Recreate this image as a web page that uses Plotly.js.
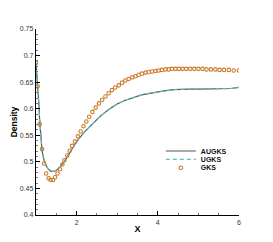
<!DOCTYPE html>
<html><head><meta charset="utf-8">
<script src="https://cdn.plot.ly/plotly-3.0.1.min.js"></script>
<style>html,body{margin:0;padding:0;background:#fff;}#chart{width:273px;height:242px;}</style>
</head><body><div id="chart"></div>
<script>
var lineX = [1.00,1.03,1.05,1.07,1.09,1.12,1.15,1.20,1.25,1.30,1.35,1.40,1.45,1.50,1.60,1.70,1.80,1.90,2.00,2.20,2.40,2.60,2.80,3.00,3.20,3.40,3.60,3.80,4.00,4.20,4.40,4.60,4.80,5.00,5.20,5.40,5.60,5.80,6.00];
var augksY = [0.686,0.660,0.642,0.610,0.578,0.541,0.520,0.503,0.493,0.487,0.483,0.482,0.482,0.484,0.491,0.501,0.514,0.526,0.538,0.557,0.573,0.587,0.599,0.609,0.616,0.621,0.626,0.629,0.632,0.634,0.636,0.637,0.637,0.637,0.637,0.637,0.637,0.638,0.640];
var ugksY = [0.686,0.660,0.642,0.610,0.578,0.541,0.520,0.503,0.493,0.487,0.483,0.482,0.482,0.484,0.491,0.501,0.514,0.526,0.538,0.557,0.573,0.587,0.599,0.609,0.616,0.621,0.626,0.629,0.632,0.634,0.636,0.637,0.637,0.637,0.637,0.637,0.637,0.638,0.640];
var gksX = [1.00,1.04,1.09,1.15,1.20,1.25,1.31,1.36,1.42,1.47,1.53,1.59,1.65,1.70,1.77,1.83,1.89,1.96,2.03,2.10,2.17,2.24,2.31,2.39,2.47,2.55,2.63,2.71,2.79,2.87,2.95,3.04,3.12,3.20,3.28,3.37,3.45,3.53,3.61,3.70,3.78,3.86,3.94,4.02,4.10,4.19,4.27,4.35,4.44,4.52,4.61,4.70,4.80,4.90,5.00,5.10,5.20,5.31,5.42,5.52,5.63,5.75,5.87,6.00];
var gksY = [0.686,0.642,0.571,0.524,0.497,0.478,0.469,0.466,0.466,0.471,0.478,0.486,0.495,0.503,0.512,0.521,0.530,0.538,0.548,0.557,0.567,0.576,0.585,0.594,0.602,0.610,0.617,0.623,0.629,0.635,0.640,0.644,0.649,0.653,0.656,0.659,0.661,0.664,0.666,0.668,0.669,0.670,0.671,0.672,0.673,0.674,0.674,0.675,0.675,0.675,0.675,0.675,0.675,0.675,0.675,0.675,0.674,0.674,0.674,0.673,0.673,0.673,0.672,0.672];
var seriesNames = ['AUGKS','UGKS','GKS'];

var font = 'Liberation Sans, Arial, sans-serif';
var traces = [
  {x: lineX, y: augksY, name: seriesNames[0], mode: 'lines', line: {color: '#555555', width: 1.2}, legend: 'legend'},
  {x: lineX, y: ugksY, name: seriesNames[1], mode: 'lines', line: {color: '#5cc0c0', width: 1.2, dash: '4px,3px'}, legend: 'legend2'},
  {x: gksX, y: gksY, name: seriesNames[2], mode: 'markers', marker: {symbol: 'circle-open', size: 3.5, color: '#cc7a2a', line: {width: 1.1, color: '#cc7a2a'}}, legend: 'legend3'}
];
function leg(y) {
  return {x: 0.615, y: y, xanchor: 'left', yanchor: 'middle', bgcolor: 'rgba(0,0,0,0)', borderwidth: 0,
    font: {family: font, size: 7, color: '#111', weight: 'bold'}, itemwidth: 30, tracegroupgap: 0};
}
var layout = {
  width: 273, height: 242,
  margin: {l: 36, r: 34, t: 29, b: 27},
  paper_bgcolor: '#fff', plot_bgcolor: '#fff',
  showlegend: true,
  legend: leg(0.344), legend2: leg(0.299), legend3: leg(0.254),
  xaxis: {
    range: [1, 6], tick0: 0, dtick: 2, ticks: 'inside', ticklen: 4, tickwidth: 1, tickcolor: '#000',
    showline: true, linecolor: '#000', linewidth: 1.2, showgrid: false, zeroline: false,
    tickfont: {family: font, size: 7, color: '#333'},
    minor: {dtick: 0.5, ticks: 'inside', ticklen: 2, tickcolor: '#777', showgrid: false},
    title: {text: 'X', font: {family: font, size: 9, color: '#000', weight: 'bold'}, standoff: 1}
  },
  yaxis: {
    range: [0.4, 0.75], tick0: 0.4, dtick: 0.05, ticks: 'inside', ticklen: 4, tickwidth: 1, tickcolor: '#000',
    showline: true, linecolor: '#000', linewidth: 1.2, showgrid: false, zeroline: false,
    tickfont: {family: font, size: 7, color: '#333'},
    minor: {dtick: 0.01, ticks: 'inside', ticklen: 2, tickcolor: '#777', showgrid: false},
    title: {text: 'Density', font: {family: font, size: 8.5, color: '#000', weight: 'bold'}, standoff: 0}
  }
};
Plotly.newPlot('chart', traces, layout, {displayModeBar: false, staticPlot: true});
</script>
</body></html>
